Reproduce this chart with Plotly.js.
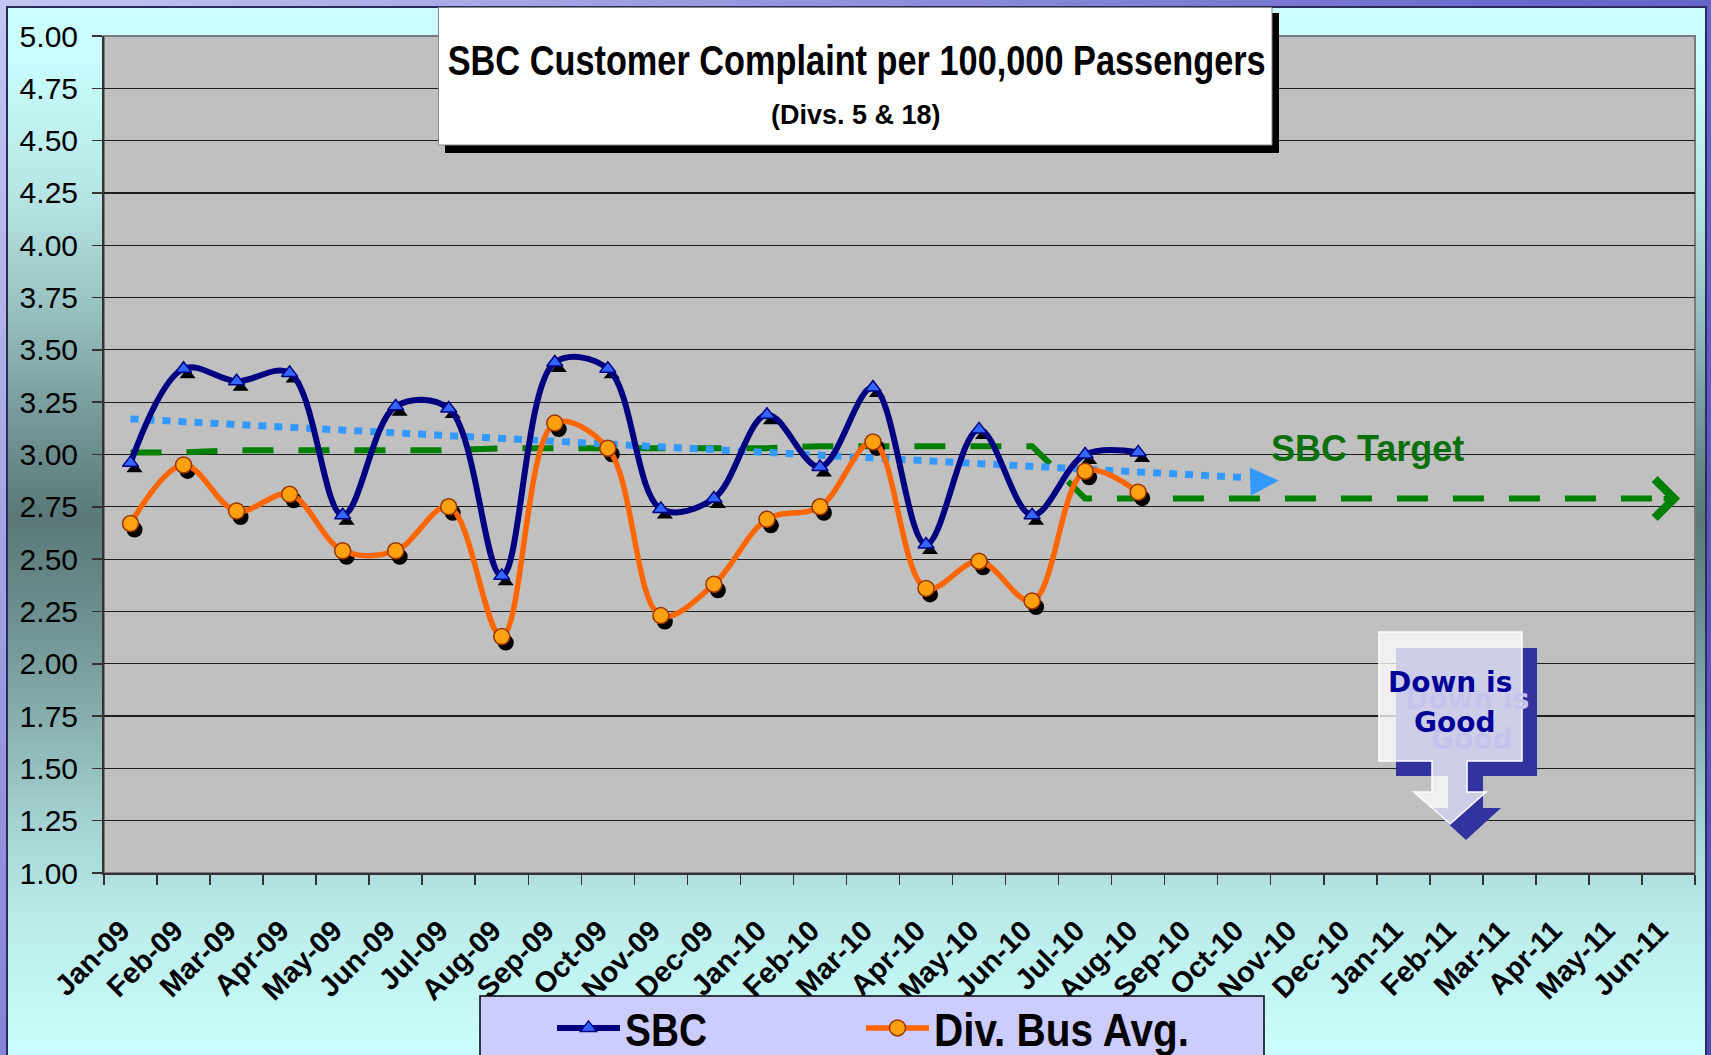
<!DOCTYPE html>
<html><head><meta charset="utf-8">
<script src="https://cdn.plot.ly/plotly-3.0.1.min.js"></script>
<style>
html,body{margin:0;padding:0;width:1711px;height:1055px;overflow:hidden;}
body{background:linear-gradient(135deg,#c6c6f2 0%,#9a9ae0 25%,#6a6acc 55%,#4c4cb6 100%);}
#bgpanel{position:absolute;left:6px;top:6px;width:1701px;height:1070px;box-sizing:border-box;border:2px solid #2c2c5c;
background:linear-gradient(to bottom,#ccffff 0px,#c8fbfb 60px,#b6e4e4 190px,#98c2c2 300px,#769898 410px,#5a7878 510px,#6e9090 610px,#8ab2b2 720px,#a6d4d4 820px,#bcecec 920px,#ccffff 1049px);}
#chart{position:absolute;left:0;top:0;width:1711px;height:1055px;}
</style></head>
<body><div id="bgpanel"></div><div id="chart"></div>
<script>
const months = ['Jan-09','Feb-09','Mar-09','Apr-09','May-09','Jun-09','Jul-09','Aug-09','Sep-09','Oct-09','Nov-09','Dec-09',
                'Jan-10','Feb-10','Mar-10','Apr-10','May-10','Jun-10','Jul-10','Aug-10','Sep-10','Oct-10','Nov-10','Dec-10',
                'Jan-11','Feb-11','Mar-11','Apr-11','May-11','Jun-11'];
const dataMonths = ['Jan-09','Feb-09','Mar-09','Apr-09','May-09','Jun-09','Jul-09','Aug-09','Sep-09','Oct-09','Nov-09','Dec-09',
                    'Jan-10','Feb-10','Mar-10','Apr-10','May-10','Jun-10','Jul-10','Aug-10'];
const sbc = [2.96,3.41,3.35,3.39,2.71,3.23,3.22,2.42,3.44,3.41,2.74,2.79,3.19,2.94,3.32,2.57,3.12,2.71,3.00,3.01];
const divBus = [2.67,2.95,2.73,2.81,2.54,2.54,2.75,2.13,3.15,3.03,2.23,2.38,2.69,2.75,3.06,2.36,2.49,2.30,2.92,2.82];
const target = [3.01,3.01,3.02,3.02,3.02,3.02,3.02,3.03,3.03,3.03,3.03,3.03,3.03,3.04,3.04,3.04,3.04,3.04,
                2.79,2.79,2.79,2.79,2.79,2.79,2.79,2.79,2.79,2.79,2.79,2.79];
const trendMonths = ['Jan-09','Oct-10'];
const trend = [3.17,2.89];
const yTicks = [1.00,1.25,1.50,1.75,2.00,2.25,2.50,2.75,3.00,3.25,3.50,3.75,4.00,4.25,4.50,4.75,5.00];

// layout geometry (pixels)
const W=1711,H=1055,L=104,R=1695,T=36,B=873;
const fx = p => (p-L)/(R-L);
const fy = p => (B-p)/(B-T);
const catW = (R-L)/30, yScale = (B-T)/4;
const sx = 4/catW, sy = 6/yScale;
const path = pts => 'M' + pts.map(p => fx(p[0]).toFixed(5)+','+fy(p[1]).toFixed(5)).join(' L') + ' Z';

const SANS = 'Liberation Sans, Arial, sans-serif';

const traces = [
  {x: months, y: target, xaxis:'x', yaxis:'y', mode:'lines', showlegend:false, hoverinfo:'skip',
   line:{color:'#008000', width:6, dash:'31px,25px'}},
  {x: trendMonths, y: trend, xaxis:'x', yaxis:'y', mode:'lines', showlegend:false, hoverinfo:'skip',
   line:{color:'#3399FF', width:7, dash:'8px,8px'}},
  {x: dataMonths, y: sbc, xaxis:'x2', yaxis:'y2', mode:'markers', showlegend:false, hoverinfo:'skip',
   marker:{symbol:'triangle-up', size:14, color:'#000'}},
  {x: dataMonths, y: divBus, xaxis:'x2', yaxis:'y2', mode:'markers', showlegend:false, hoverinfo:'skip',
   marker:{symbol:'circle', size:16, color:'#000'}},
  {x: dataMonths, y: sbc, xaxis:'x3', yaxis:'y3', name:'SBC', mode:'lines+markers',
   line:{color:'#000080', width:6, shape:'spline', smoothing:1},
   marker:{symbol:'triangle-up', size:14, color:'#3366FF', line:{color:'#000080', width:1.5}}},
  {x: dataMonths, y: divBus, xaxis:'x3', yaxis:'y3', name:'Div. Bus Avg.', mode:'lines+markers',
   line:{color:'#FF6600', width:5.5, shape:'spline', smoothing:1},
   marker:{symbol:'circle', size:16, color:'#FFA010', line:{color:'#993300', width:1.5}}}
];

const hidden = {visible:false, fixedrange:true};
const layout = {
  width:W, height:H,
  margin:{l:L, r:W-R, t:T, b:H-B, autoexpand:false},
  paper_bgcolor:'rgba(0,0,0,0)', plot_bgcolor:'#C0C0C0',
  hovermode:false,
  xaxis:{type:'category', categoryorder:'array', categoryarray:months, range:[-0.5,29.5], fixedrange:true,
    tickson:'boundaries', ticks:'outside', ticklen:10, tickwidth:1.5, tickcolor:'#333',
    tickangle:-45, ticklabelstandoff:27, ticklabelshift:-9,
    tickfont:{family:SANS, size:29, color:'#000', weight:'bold'},
    showline:true, linecolor:'#333', linewidth:2, showgrid:false, zeroline:false},
  yaxis:{range:[1,5], tickmode:'array', tickvals:yTicks, ticktext:yTicks.map(v=>v.toFixed(2)), fixedrange:true,
    ticks:'outside', ticklen:10, tickwidth:1.5, tickcolor:'#333', ticklabelstandoff:8,
    tickfont:{family:SANS, size:30, color:'#000'},
    showgrid:true, gridcolor:'#1e1e1e', gridwidth:1.2, showline:true, linecolor:'#333', linewidth:2, zeroline:false},
  xaxis2:Object.assign({type:'category', categoryorder:'array', categoryarray:months, overlaying:'x', anchor:'y2',
    range:[-0.5-sx, 29.5-sx]}, hidden),
  yaxis2:Object.assign({overlaying:'y', anchor:'x2', range:[1+sy, 5+sy]}, hidden),
  xaxis3:Object.assign({type:'category', categoryorder:'array', categoryarray:months, overlaying:'x', anchor:'y3',
    range:[-0.5, 29.5]}, hidden),
  yaxis3:Object.assign({overlaying:'y', anchor:'x3', range:[1, 5]}, hidden),
  showlegend:true,
  legend:{orientation:'h', x:fx(552), xanchor:'left', y:fy(1028), yanchor:'middle',
    bgcolor:'rgba(0,0,0,0)', borderwidth:0, itemwidth:63, entrywidth:231, entrywidthmode:'pixels',
    font:{family:SANS, size:46, color:'#000', weight:'bold'}},
  shapes:[
    {type:'rect', xref:'paper', yref:'paper', x0:0, x1:1, y0:0, y1:1, line:{color:'#7a7a7a', width:2}, layer:'below'},
    {type:'rect', xref:'paper', yref:'paper', x0:fx(445), x1:fx(1279), y0:fy(153), y1:fy(13), fillcolor:'#000', line:{width:0}},
    {type:'rect', xref:'paper', yref:'paper', x0:fx(438.5), x1:fx(1272), y0:fy(145), y1:fy(7.5), fillcolor:'#fff', line:{color:'#888', width:1}},
    {type:'path', xref:'paper', yref:'paper', fillcolor:'#3333A0', line:{width:0},
     path: path([[1396,648],[1537,648],[1537,776],[1483,776],[1483,808],[1501,808],[1466,840],[1431,808],[1448,808],[1448,776],[1396,776]])},
    {type:'path', xref:'paper', yref:'paper', fillcolor:'rgba(255,255,255,0.76)', line:{color:'#ffffff', width:1.5},
     path: path([[1379,632],[1522,632],[1522,761],[1467,761],[1467,792],[1486,792],[1450,824],[1414,792],[1432,792],[1432,761],[1379,761]])},
    {type:'rect', xref:'paper', yref:'paper', x0:fx(480), x1:fx(1264), y0:fy(1075), y1:fy(996), fillcolor:'#CCCCFF', line:{color:'#000', width:1.5}}
  ],
  annotations:[
    {xref:'paper', yref:'paper', x:fx(856), y:fy(60), text:'SBC Customer Complaint per 100,000 Passengers', showarrow:false,
     xanchor:'center', yanchor:'middle', font:{family:SANS, size:42, color:'#000', weight:'bold'}},
    {xref:'paper', yref:'paper', x:fx(856), y:fy(115), text:'(Divs. 5 &amp; 18)', showarrow:false,
     xanchor:'center', yanchor:'middle', font:{family:SANS, size:27, color:'#000', weight:'bold'}},
    {xref:'paper', yref:'paper', x:fx(1367), y:fy(448), text:'SBC Target', showarrow:false,
     xanchor:'center', yanchor:'middle', font:{family:SANS, size:36, color:'#0B700B', weight:'bold'}},
    {xref:'x', yref:'y', x:21.65, y:2.876, ax:-24, ay:1, text:'', showarrow:true, arrowhead:2, arrowsize:1.9, arrowwidth:3,
     arrowcolor:'#3399FF', standoff:0},
    {xref:'x', yref:'y', x:29.22, y:2.79, ax:-18, ay:0, text:'', showarrow:true, arrowhead:4, arrowsize:1.5, arrowwidth:5,
     arrowcolor:'#008000', standoff:0},
    {xref:'paper', yref:'paper', x:fx(1467), y:fy(699), text:'Down is', showarrow:false, xanchor:'center', yanchor:'middle',
     font:{family:'DejaVu Sans, sans-serif', size:28, color:'#c4c4ec', weight:'bold'}},
    {xref:'paper', yref:'paper', x:fx(1472), y:fy(739), text:'Good', showarrow:false, xanchor:'center', yanchor:'middle',
     font:{family:'DejaVu Sans, sans-serif', size:28, color:'#c4c4ec', weight:'bold'}},
    {xref:'paper', yref:'paper', x:fx(1450), y:fy(682), text:'Down is', showarrow:false, xanchor:'center', yanchor:'middle',
     font:{family:'DejaVu Sans, sans-serif', size:28, color:'#000099', weight:'bold'}},
    {xref:'paper', yref:'paper', x:fx(1455), y:fy(722), text:'Good', showarrow:false, xanchor:'center', yanchor:'middle',
     font:{family:'DejaVu Sans, sans-serif', size:28, color:'#000099', weight:'bold'}}
  ]
};

// condense some texts to match the narrow typeface of the original
function condense(el, len) {
  if (!el) return;
  el.setAttribute('textLength', len);
  el.setAttribute('lengthAdjust', 'spacingAndGlyphs');
}
Plotly.newPlot('chart', traces, layout, {displayModeBar:false, staticPlot:true}).then(gd => {
  const ann = gd.querySelectorAll('.annotation-text');
  condense(ann[0], 818);
  const leg = gd.querySelectorAll('.legendtext');
  const legLens = [82, 255];
  leg.forEach((t, i) => condense(t, legLens[i]));
  gd.querySelectorAll('.legend [clip-path]').forEach(el => el.removeAttribute('clip-path'));
});
</script>
</body></html>
